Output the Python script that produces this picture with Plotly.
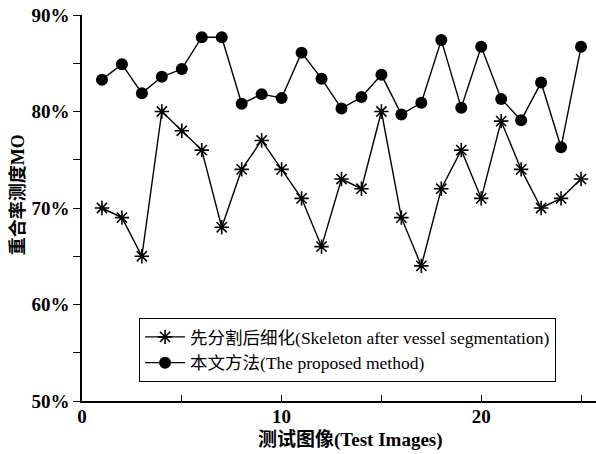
import plotly.graph_objects as go

x_images = list(range(1, 26))
skeleton_after_seg = [70, 69, 65, 80, 78, 76, 68, 74, 77, 74, 71, 66, 73, 72, 80, 69, 64, 72, 76, 71, 79, 74, 70, 71, 73]
proposed_method = [83.3, 84.9, 81.9, 83.6, 84.4, 87.7, 87.7, 80.8, 81.8, 81.4, 86.1, 83.4, 80.3, 81.5, 83.8, 79.7, 80.9, 87.4, 80.4, 86.7, 81.3, 79.1, 83.0, 76.3, 86.7]
name_skel = "先分割后细化(Skeleton after vessel segmentation)"
name_prop = "本文方法(The proposed method)"
y_ticks = [50, 60, 70, 80, 90]
x_ticks = [0, 10, 20]
x_title = "测试图像(Test Images)"
y_title = "重合率测度MO"

SERIF = "Liberation Serif, Noto Sans CJK SC"

fig = go.Figure()
fig.add_trace(go.Scatter(
    x=x_images, y=skeleton_after_seg, mode="lines+markers", name=name_skel,
    line=dict(color="black", width=1.4), cliponaxis=False,
    marker=dict(symbol="asterisk-open", size=12, color="black", line=dict(color="black", width=1.6)),
))
fig.add_trace(go.Scatter(
    x=x_images, y=proposed_method, mode="lines+markers", name=name_prop,
    line=dict(color="black", width=1.4), cliponaxis=False,
    marker=dict(symbol="circle", size=12, color="black"),
))

fig.update_layout(
    width=596, height=454,
    margin=dict(l=82, r=0, t=15, b=53, autoexpand=False),
    paper_bgcolor="white", plot_bgcolor="white",
    font=dict(family=SERIF, color="black"),
    legend=dict(
        x=0.111, y=0.215, xanchor="left", yanchor="top",
        bgcolor="white", bordercolor="black", borderwidth=1,
        font=dict(family=SERIF, size=17.5, color="black"),
        tracegroupgap=0, itemwidth=40,
    ),
    showlegend=True,
    annotations=[
        dict(text=f"<b>{x_title}</b>", xref="paper", yref="paper", x=0.523, y=-0.101,
             xanchor="center", yanchor="middle", showarrow=False,
             font=dict(family=SERIF, size=19, color="black")),
        dict(text=f"<b>{y_title}</b>", xref="paper", yref="paper", x=-0.125, y=0.535,
             xanchor="center", yanchor="middle", showarrow=False, textangle=-90,
             font=dict(family=SERIF, size=18, color="black")),
    ],
)
fig.update_xaxes(
    range=[0, 25.75], tickvals=x_ticks, ticktext=[f"<b>{v}</b>" for v in x_ticks],
    ticks="inside", ticklen=6, tickwidth=1, tickcolor="black",
    minor=dict(dtick=5, ticks="inside", ticklen=6, tickcolor="black", tick0=0),
    showline=True, linecolor="black", linewidth=1.5, showgrid=False, zeroline=False,
    tickfont=dict(family=SERIF, size=19), automargin=False, ticklabelstandoff=-3,
    ticklabeloverflow="allow",
)
fig.update_yaxes(
    range=[50, 90], tickvals=y_ticks, ticktext=[f"<b>{v}%</b>" for v in y_ticks],
    ticks="outside", ticklen=7, tickwidth=1, tickcolor="black",
    minor=dict(dtick=5, ticks="outside", ticklen=7, tickcolor="black", tick0=50),
    showline=True, linecolor="black", linewidth=1.5, showgrid=False, zeroline=False,
    tickfont=dict(family=SERIF, size=19), automargin=False, ticklabeloverflow="allow",
)

# remove the default 8px page margin so the figure fills the window exactly
fig.write_html("out.html", config={"displayModeBar": False},
               post_script="document.body.style.margin='0';")
